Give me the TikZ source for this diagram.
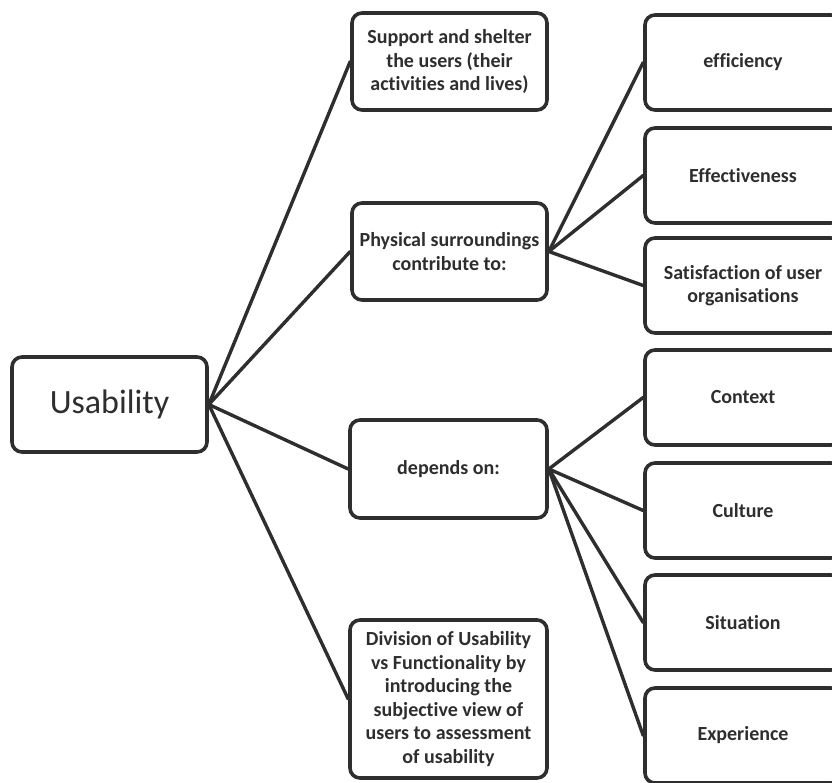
\documentclass[tikz,border=0pt]{standalone}
\usepackage{fontspec}
\setmainfont[Ligatures=NoCommon]{Carlito}
\begin{document}
\begin{tikzpicture}[x=1pt,y=-1pt,
  box/.style={draw=ink, line width=3.6pt, rounded corners=10pt, fill=white,
    align=center, font=\fontsize{20}{23.6}\selectfont\bfseries, text=ink,
    inner sep=0pt},
  link/.style={draw=ink, line width=3.4pt, line cap=round}]
\definecolor{ink}{HTML}{2E2E2E}
\useasboundingbox (0,0) rectangle (832,782);
\clip (0,0) rectangle (832,782);

% root
\node[box, minimum width=195pt, minimum height=95pt,
  font=\fontsize{34}{40}\selectfont] (use) at (109.5,404.5) {Usability};

% middle column
\node[box, minimum width=195pt, minimum height=97pt] (sup) at (449.5,61.5)
  {Support and shelter\\the users (their\\activities and lives)};
\node[box, minimum width=195pt, minimum height=97pt] (phy) at (449.5,251.5)
  {Physical surroundings\\contribute to:};
\node[box, minimum width=197pt, minimum height=98pt] (dep) at (448.5,469)
  {depends on:};
\node[box, minimum width=197pt, minimum height=158pt] (div) at (448.5,699)
  {Division of Usability\\vs Functionality by\\introducing the\\subjective view of\\users to assessment\\of usability};

% right column
\foreach \n/\y/\t in {eff/62.5/efficiency, efv/175.5/Effectiveness,
    sat/285.5/{Satisfaction of user\\organisations}, ctx/397.5/Context,
    cul/510.5/Culture, sit/622.5/Situation, exp/735.5/Experience}
  \node[box, minimum width=196pt, minimum height=95pt] (\n) at (743,\y) {\t};

% connectors
\foreach \m in {sup,phy,dep,div} \draw[link] (use.east) -- (\m.west);
\foreach \m in {eff,efv,sat} \draw[link] (phy.east) -- (\m.west);
\foreach \m in {ctx,cul,sit,exp} \draw[link] (dep.east) -- (\m.west);
\end{tikzpicture}
\end{document}
